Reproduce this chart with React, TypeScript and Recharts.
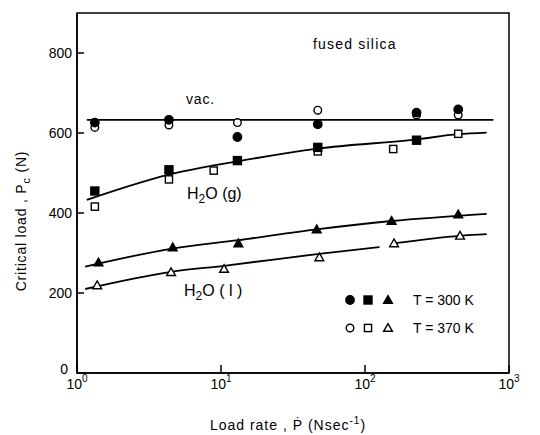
import React from 'react';
import {
  ComposedChart,
  XAxis,
  YAxis,
  Line,
  Scatter,
  ReferenceArea,
} from 'recharts';

// values (load rate in N/s, critical load in N)
const vacFilled = [
  { x: 1.33, y: 626 },
  { x: 4.35, y: 633 },
  { x: 13, y: 590 },
  { x: 47, y: 622 },
  { x: 228, y: 651 },
  { x: 444, y: 659 },
];
const vacOpen = [
  { x: 1.33, y: 614 },
  { x: 4.35, y: 620 },
  { x: 13, y: 626 },
  { x: 47, y: 657 },
  { x: 228, y: 645 },
  { x: 444, y: 645 },
];
const gasFilled = [
  { x: 1.33, y: 455 },
  { x: 4.35, y: 508 },
  { x: 13, y: 531 },
  { x: 47, y: 564 },
  { x: 228, y: 582 },
];
const gasOpen = [
  { x: 1.33, y: 416 },
  { x: 4.35, y: 484 },
  { x: 8.9, y: 506 },
  { x: 47, y: 554 },
  { x: 157, y: 560 },
  { x: 444, y: 598 },
];
const liqFilled = [
  { x: 1.41, y: 276 },
  { x: 4.62, y: 314 },
  { x: 13.2, y: 324 },
  { x: 46.2, y: 359 },
  { x: 153, y: 380 },
  { x: 444, y: 396 },
];
const liqOpen = [
  { x: 1.38, y: 219 },
  { x: 4.5, y: 252 },
  { x: 10.5, y: 260 },
  { x: 48.2, y: 289 },
  { x: 159, y: 324 },
  { x: 457, y: 343 },
];

// fitted curves as drawn
const vacLine = [
  { x: 1.17, y: 633 },
  { x: 780, y: 633 },
];
const gasLine = [
  { x: 1.17, y: 433 },
  { x: 4.35, y: 496 },
  { x: 13, y: 529 },
  { x: 47, y: 561 },
  { x: 228, y: 584 },
  { x: 444, y: 597 },
  { x: 700, y: 601 },
];
const liqUpperLine = [
  { x: 1.14, y: 266 },
  { x: 4.6, y: 311 },
  { x: 13.2, y: 332 },
  { x: 46, y: 359 },
  { x: 153, y: 380 },
  { x: 700, y: 398 },
];
const liqLowerLine = [
  { x: 1.14, y: 210 },
  { x: 4.5, y: 253 },
  { x: 10.5, y: 268 },
  { x: 48, y: 298 },
  { x: 126, y: 315 },
  { x: 140, y: null },
  { x: 157, y: 324 },
  { x: 457, y: 343 },
  { x: 700, y: 347 },
];

const xTicks = [1, 10, 100, 1000];
const yTicks = [0, 200, 400, 600, 800];

const FONT = '"Liberation Sans", Arial, sans-serif';

type Kind = 'circle' | 'square' | 'triangle';

function Mark({ cx, cy, kind, filled }: { cx: number; cy: number; kind: Kind; filled: boolean }) {
  if (cx == null || cy == null) return null;
  const fill = filled ? '#000' : '#fff';
  const sw = 1.4;
  if (kind === 'circle') {
    return <circle cx={cx} cy={cy} r={filled ? 4.2 : 3.8} fill={fill} stroke="#000" strokeWidth={sw} />;
  }
  if (kind === 'square') {
    const h = filled ? 4 : 3.6;
    return <rect x={cx - h} y={cy - h} width={h * 2} height={h * 2} fill={fill} stroke="#000" strokeWidth={sw} />;
  }
  const t = 4.4;
  return (
    <polygon
      points={`${cx},${cy - t} ${cx - t},${cy + t * 0.75} ${cx + t},${cy + t * 0.75}`}
      fill={fill}
      stroke="#000"
      strokeWidth={sw}
      strokeLinejoin="miter"
    />
  );
}

const shape = (kind: Kind, filled: boolean) => (p: any) => <Mark cx={p.cx} cy={p.cy} kind={kind} filled={filled} />;

function XTick({ x, y, payload }: any) {
  const exp = Math.round(Math.log10(payload.value));
  return (
    <g>
      <line x1={x} x2={x} y1={y - 4} y2={y - 12} stroke="#000" strokeWidth={1.5} />
      <text x={x} y={y + 12} textAnchor="middle" fontSize={14} fontFamily={FONT} fill="#000">
        10<tspan dy={-7} fontSize={10}>{exp}</tspan>
      </text>
    </g>
  );
}

function YTick({ x, y, payload }: any) {
  const lift = payload.value === 0 ? -4 : 0;
  return (
    <g>
      <line x1={x + 5} x2={x + 12} y1={y} y2={y} stroke="#000" strokeWidth={1.5} />
      <text x={x - (payload.value === 0 ? 4 : 0)} y={y + 5 + lift} textAnchor="end" fontSize={14} fontFamily={FONT} fill="#000">
        {payload.value}
      </text>
    </g>
  );
}

const lineProps = {
  dataKey: 'y',
  type: 'monotone' as const,
  dot: false,
  stroke: '#000',
  strokeWidth: 1.8,
  isAnimationActive: false,
  connectNulls: false,
};

export default function App() {
  return (
    <div style={{ position: 'absolute', left: 0, top: 0, width: 540, height: 435, background: '#fff' }}>
      <ComposedChart width={540} height={435} margin={{ top: 13, right: 31, left: 0, bottom: 32 }}>
        <XAxis
          dataKey="x"
          type="number"
          scale="log"
          domain={[1, 1000]}
          ticks={xTicks}
          allowDataOverflow
          height={30}
          tickSize={0}
          tickMargin={4}
          tick={<XTick />}
          axisLine={{ stroke: '#000', strokeWidth: 1.5 }}
          interval={0}
        />
        <YAxis
          dataKey="y"
          type="number"
          domain={[0, 900]}
          ticks={yTicks}
          width={77}
          tickSize={0}
          tickMargin={5}
          tick={<YTick />}
          axisLine={{ stroke: '#000', strokeWidth: 1.5 }}
          interval={0}
        />
        <ReferenceArea x1={1} x2={1000} y1={0} y2={900} fill="none" stroke="#000" strokeWidth={1.5} />
        <Line {...lineProps} data={vacLine} />
        <Line {...lineProps} data={gasLine} />
        <Line {...lineProps} data={liqUpperLine} />
        <Line {...lineProps} data={liqLowerLine} />
        <Scatter data={vacOpen} shape={shape('circle', false)} isAnimationActive={false} />
        <Scatter data={vacFilled} shape={shape('circle', true)} isAnimationActive={false} />
        <Scatter data={gasOpen} shape={shape('square', false)} isAnimationActive={false} />
        <Scatter data={gasFilled} shape={shape('square', true)} isAnimationActive={false} />
        <Scatter data={liqOpen} shape={shape('triangle', false)} isAnimationActive={false} />
        <Scatter data={liqFilled} shape={shape('triangle', true)} isAnimationActive={false} />
      </ComposedChart>
      <svg
        width={540}
        height={435}
        style={{ position: 'absolute', left: 0, top: 0, pointerEvents: 'none' }}
        fontFamily={FONT}
        fill="#000"
      >
        <text x={313} y={49} fontSize={14} letterSpacing={1.2}>fused silica</text>
        <text x={186} y={104} fontSize={14} letterSpacing={0.8}>vac.</text>
        <text x={187} y={199} fontSize={16}>
          H<tspan dy={4} fontSize={12}>2</tspan><tspan dy={-4}>O (g)</tspan>
        </text>
        <text x={184} y={296} fontSize={16}>
          H<tspan dy={4} fontSize={12}>2</tspan><tspan dy={-4}>O ( l )</tspan>
        </text>
        {/* legend */}
        <Mark cx={350} cy={300} kind="circle" filled />
        <Mark cx={368} cy={300} kind="square" filled />
        <Mark cx={388} cy={300} kind="triangle" filled />
        <text x={413} y={305} fontSize={14}>T = 300 K</text>
        <Mark cx={350} cy={328} kind="circle" filled={false} />
        <Mark cx={368} cy={328} kind="square" filled={false} />
        <Mark cx={388} cy={328} kind="triangle" filled={false} />
        <text x={413} y={333} fontSize={14}>T = 370 K</text>
        {/* axis titles */}
        <text x={288} y={430} fontSize={14} textAnchor="middle" letterSpacing={1}>
          Load  rate , Ṗ (Nsec<tspan dy={-6} fontSize={10}>-1</tspan><tspan dy={6}>)</tspan>
        </text>
        <text x={26} y={221} fontSize={14} textAnchor="middle" letterSpacing={0.8} transform="rotate(-90 26 221)">
          Critical  load , P<tspan dy={4} fontSize={11}>c</tspan><tspan dy={-4}> (N)</tspan>
        </text>
      </svg>
    </div>
  );
}
